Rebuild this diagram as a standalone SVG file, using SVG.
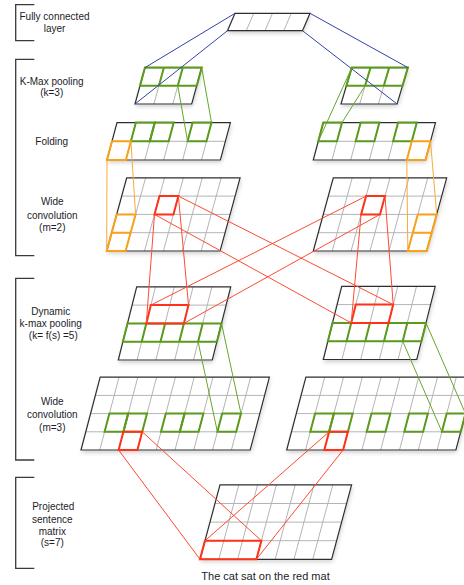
<svg xmlns="http://www.w3.org/2000/svg" width="464" height="585" viewBox="0 0 464 585">
  <defs>
    <filter id="soft" x="-15%" y="-30%" width="135%" height="170%">
      <feDropShadow dx="1.5" dy="2.5" stdDeviation="2" flood-color="#000" flood-opacity="0.2"/>
    </filter>
    <style>
      .bg{fill:#fff;stroke:none;filter:url(#soft)}
      .in{fill:none;stroke:#b4b4b4;stroke-width:1;vector-effect:non-scaling-stroke}
      .bd{fill:none;stroke:#2e2e2e;stroke-width:1.2;vector-effect:non-scaling-stroke}
      .hg{fill:none;stroke:#5a9b1c;stroke-width:2;stroke-linejoin:miter;vector-effect:non-scaling-stroke}
      .ho{fill:none;stroke:#f8a11b;stroke-width:2;vector-effect:non-scaling-stroke}
      .hr{fill:none;stroke:#ff3219;stroke-width:2;vector-effect:non-scaling-stroke}
      .cb{fill:none;stroke:#3243a6;stroke-width:1}
      .cg{fill:none;stroke:#66a52c;stroke-width:1}
      .co{fill:none;stroke:#f9aa3a;stroke-width:1}
      .cr{fill:none;stroke:#ff4a30;stroke-width:1}
      .br{fill:none;stroke:#3a3a3a;stroke-width:1.3}
      text{font-family:"Liberation Sans",Arial,Helvetica,sans-serif;font-size:10px;fill:#1c1c2a;text-anchor:middle}
      .cap{font-size:11px}
    </style>
  </defs>

  <!-- layer brackets and labels -->
  <g id="labels">
    <path class="br" d="M34.3 4.7H15.7V40.7H34.3M34.3 59.3H15.7V255.7H34.3M34.3 278.3H15.7V460H34.3M34.3 477.3H15.7V568.3H34.3"/>
    <text x="54.5" y="20">Fully connected</text>
    <text x="54.5" y="31.8">layer</text>
    <text x="51.7" y="84.5">K-Max pooling</text>
    <text x="51.7" y="96">(k=3)</text>
    <text x="51.7" y="145">Folding</text>
    <text x="52.3" y="205">Wide</text>
    <text x="52.3" y="218.5">convolution</text>
    <text x="52.3" y="231">(m=2)</text>
    <text x="50.7" y="315">Dynamic</text>
    <text x="50.7" y="327">k-max pooling</text>
    <text x="53.3" y="338.5">(k= f(s) =5)</text>
    <text x="52.3" y="404.5">Wide</text>
    <text x="52.3" y="418">convolution</text>
    <text x="52.3" y="431">(m=3)</text>
    <text x="53.3" y="509.5">Projected</text>
    <text x="52.3" y="523">sentence</text>
    <text x="52.3" y="534.5">matrix</text>
    <text x="52.3" y="546">(s=7)</text>
    <text class="cap" x="265.5" y="580">The cat sat on the red mat</text>
  </g>

  <!-- fully connected layer: 4 x 1 -->
  <g id="fc-layer" transform="matrix(1 0 -0.431 1 235 13.3)">
    <rect class="bg" width="75" height="17.4"/>
    <path class="in" d="M18.75 0V17.4M37.5 0V17.4M56.25 0V17.4"/>
    <rect class="bd" width="75" height="17.4"/>
  </g>

  <!-- k-max pooling (k=3), left and right maps -->
  <g id="kmax-left" transform="matrix(1 0 -0.2747 1 145 67.6)">
    <rect class="bg" width="56.7" height="36.4"/>
    <path class="in" d="M18.9 18.2V36.4M37.8 18.2V36.4"/>
    <rect class="bd" width="56.7" height="36.4"/>
    <path class="hg" d="M0 0H56.7V18.2H0ZM18.9 0V18.2M37.8 0V18.2"/>
  </g>
  <g id="kmax-right" transform="matrix(1 0 -0.2967 1 351.8 67.6)">
    <rect class="bg" width="56.1" height="36.4"/>
    <path class="in" d="M18.7 18.2V36.4M37.4 18.2V36.4"/>
    <rect class="bd" width="56.1" height="36.4"/>
    <path class="hg" d="M0 0H56.1V18.2H0ZM18.7 0V18.2M37.4 0V18.2"/>
  </g>

  <!-- folding -->
  <g id="fold-left" transform="matrix(1 0 -0.2674 1 117 122.6)">
    <rect class="bg" width="113.4" height="37.4"/>
    <path class="in" d="M0 18.7H113.4M18.9 0V37.4M37.8 0V37.4M56.7 0V37.4M75.6 0V37.4M94.5 0V37.4"/>
    <rect class="bd" width="113.4" height="37.4"/>
    <rect class="hg" x="18.9" width="18.9" height="18.7"/>
    <rect class="hg" x="37.8" width="18.9" height="18.7"/>
    <rect class="hg" x="75.6" width="18.9" height="18.7"/>
    <rect class="ho" y="18.7" width="18.9" height="18.7"/>
  </g>
  <g id="fold-right" transform="matrix(1 0 -0.2674 1 323.3 122.6)">
    <rect class="bg" width="112.2" height="37.4"/>
    <path class="in" d="M0 18.7H112.2M18.7 0V37.4M37.4 0V37.4M56.1 0V37.4M74.8 0V37.4M93.5 0V37.4"/>
    <rect class="bd" width="112.2" height="37.4"/>
    <rect class="hg" x="0" width="18.7" height="18.7"/>
    <rect class="hg" x="37.4" width="18.7" height="18.7"/>
    <rect class="hg" x="74.8" width="18.7" height="18.7"/>
    <rect class="ho" x="93.5" y="18.7" width="18.7" height="18.7"/>
  </g>

  <!-- wide convolution (m=2) -->
  <g id="conv2-left" transform="matrix(1 0 -0.2732 1 126.7 177.8)">
    <rect class="bg" width="113.4" height="73.2"/>
    <path class="in" d="M0 18.3H113.4M0 36.6H113.4M0 54.9H113.4M18.9 0V73.2M37.8 0V73.2M56.7 0V73.2M75.6 0V73.2M94.5 0V73.2"/>
    <rect class="bd" width="113.4" height="73.2"/>
    <rect class="hr" x="37.8" y="18.3" width="18.9" height="18.3"/>
    <path class="ho" d="M0 36.6H18.9V73.2H0ZM0 54.9H18.9"/>
  </g>
  <g id="conv2-right" transform="matrix(1 0 -0.2732 1 333.3 177.8)">
    <rect class="bg" width="113.4" height="73.2"/>
    <path class="in" d="M0 18.3H113.4M0 36.6H113.4M0 54.9H113.4M18.9 0V73.2M37.8 0V73.2M56.7 0V73.2M75.6 0V73.2M94.5 0V73.2"/>
    <rect class="bd" width="113.4" height="73.2"/>
    <rect class="hr" x="37.8" y="18.3" width="18.9" height="18.3"/>
    <path class="ho" d="M94.5 36.6H113.4V73.2H94.5ZM94.5 54.9H113.4"/>
  </g>

  <!-- dynamic k-max pooling (k=5) -->
  <g id="dyn-left" transform="matrix(1 0 -0.2514 1 136.7 286.8)">
    <rect class="bg" width="94" height="73.2"/>
    <path class="in" d="M0 18.3H94M0 36.6H94M0 54.9H94M18.8 0V73.2M37.6 0V73.2M56.4 0V73.2M75.2 0V73.2"/>
    <rect class="bd" width="94" height="73.2"/>
    <path class="hg" d="M0 36.6H94V54.9H0ZM18.8 36.6V54.9M37.6 36.6V54.9M56.4 36.6V54.9M75.2 36.6V54.9"/>
    <rect class="hr" x="18.8" y="18.3" width="37.6" height="18.3"/>
  </g>
  <g id="dyn-right" transform="matrix(1 0 -0.2514 1 341.7 286.3)">
    <rect class="bg" width="93.5" height="73.2"/>
    <path class="in" d="M0 18.3H93.5M0 36.6H93.5M0 54.9H93.5M18.7 0V73.2M37.4 0V73.2M56.1 0V73.2M74.8 0V73.2"/>
    <rect class="bd" width="93.5" height="73.2"/>
    <path class="hg" d="M0 36.6H93.5V54.9H0ZM18.7 36.6V54.9M37.4 36.6V54.9M56.1 36.6V54.9M74.8 36.6V54.9"/>
    <rect class="hr" x="18.7" y="18.3" width="37.4" height="18.3"/>
  </g>

  <!-- wide convolution (m=3) -->
  <g id="conv3-left" transform="matrix(1 0 -0.2637 1 100.2 377.2)">
    <rect class="bg" width="169.2" height="72.8"/>
    <path class="in" d="M0 18.2H169.2M0 36.4H169.2M0 54.6H169.2M18.8 0V72.8M37.6 0V72.8M56.4 0V72.8M75.2 0V72.8M94 0V72.8M112.8 0V72.8M131.6 0V72.8M150.4 0V72.8"/>
    <rect class="bd" width="169.2" height="72.8"/>
    <rect class="hg" x="18.8" y="36.4" width="18.8" height="18.2"/>
    <rect class="hg" x="37.6" y="36.4" width="18.8" height="18.2"/>
    <rect class="hg" x="75.2" y="36.4" width="18.8" height="18.2"/>
    <rect class="hg" x="94" y="36.4" width="18.8" height="18.2"/>
    <rect class="hg" x="131.6" y="36.4" width="18.8" height="18.2"/>
    <rect class="hr" x="37.6" y="54.6" width="18.8" height="18.2"/>
  </g>
  <g id="conv3-right" transform="matrix(1 0 -0.2637 1 305.9 377.2)">
    <rect class="bg" width="169.2" height="72.8"/>
    <path class="in" d="M0 18.2H169.2M0 36.4H169.2M0 54.6H169.2M18.8 0V72.8M37.6 0V72.8M56.4 0V72.8M75.2 0V72.8M94 0V72.8M112.8 0V72.8M131.6 0V72.8M150.4 0V72.8"/>
    <rect class="bd" width="169.2" height="72.8"/>
    <rect class="hg" x="18.8" y="36.4" width="18.8" height="18.2"/>
    <rect class="hg" x="37.6" y="36.4" width="18.8" height="18.2"/>
    <rect class="hg" x="75.2" y="36.4" width="18.8" height="18.2"/>
    <rect class="hg" x="112.8" y="36.4" width="18.8" height="18.2"/>
    <rect class="hg" x="150.4" y="36.4" width="18.8" height="18.2"/>
    <rect class="hr" x="37.6" y="54.6" width="18.8" height="18.2"/>
  </g>

  <!-- projected sentence matrix (s=7) -->
  <g id="sentence-matrix" transform="matrix(1 0 -0.2688 1 220 484.9)">
    <rect class="bg" width="131.6" height="74.4"/>
    <path class="in" d="M0 18.6H131.6M0 37.2H131.6M0 55.8H131.6M18.8 0V74.4M37.6 0V74.4M56.4 0V74.4M75.2 0V74.4M94 0V74.4M112.8 0V74.4"/>
    <rect class="bd" width="131.6" height="74.4"/>
    <rect class="hr" y="55.8" width="56.4" height="18.6"/>
  </g>

  <!-- connectors between layers -->
  <g id="connectors">
    <path class="cb" d="M235 13.3L145 67.6M227.5 30.7L135 104M310 13.3L407.9 67.6M302.5 30.7L397.1 104"/>
    <path class="cg" d="M177.8 85.8L187.6 141.3M201.7 67.6L211.5 122.6M351.8 67.6L318.3 141.3M365.1 85.8L342 122.6"/>
    <path class="co" d="M107 160L106.7 251M130.9 141.3L135.6 214.4M406.8 160L407.8 251M430.5 141.3L436.7 214.4"/>
    <path class="cr" d="M154.5 214.4L146.3 323.4M178.4 196.1L188.5 305.1M361.1 214.4L351.2 322.9M385 196.1L393.2 304.6M154.5 214.4L351.2 322.9M178.4 196.1L393.2 304.6M366.1 196.1L150.9 305.1M380 214.4L183.9 323.4"/>
    <path class="cg" d="M198.1 341.7L217.4 431.8M221.5 323.4L241 413.6M402.7 341.2L441.9 431.8M426 322.9L465.5 413.6"/>
    <path class="cr" d="M118.6 450L200 559.3M142.2 431.8L261.4 540.7M329.1 431.8L205 540.7M343.1 450L256.4 559.3"/>
  </g>
</svg>
